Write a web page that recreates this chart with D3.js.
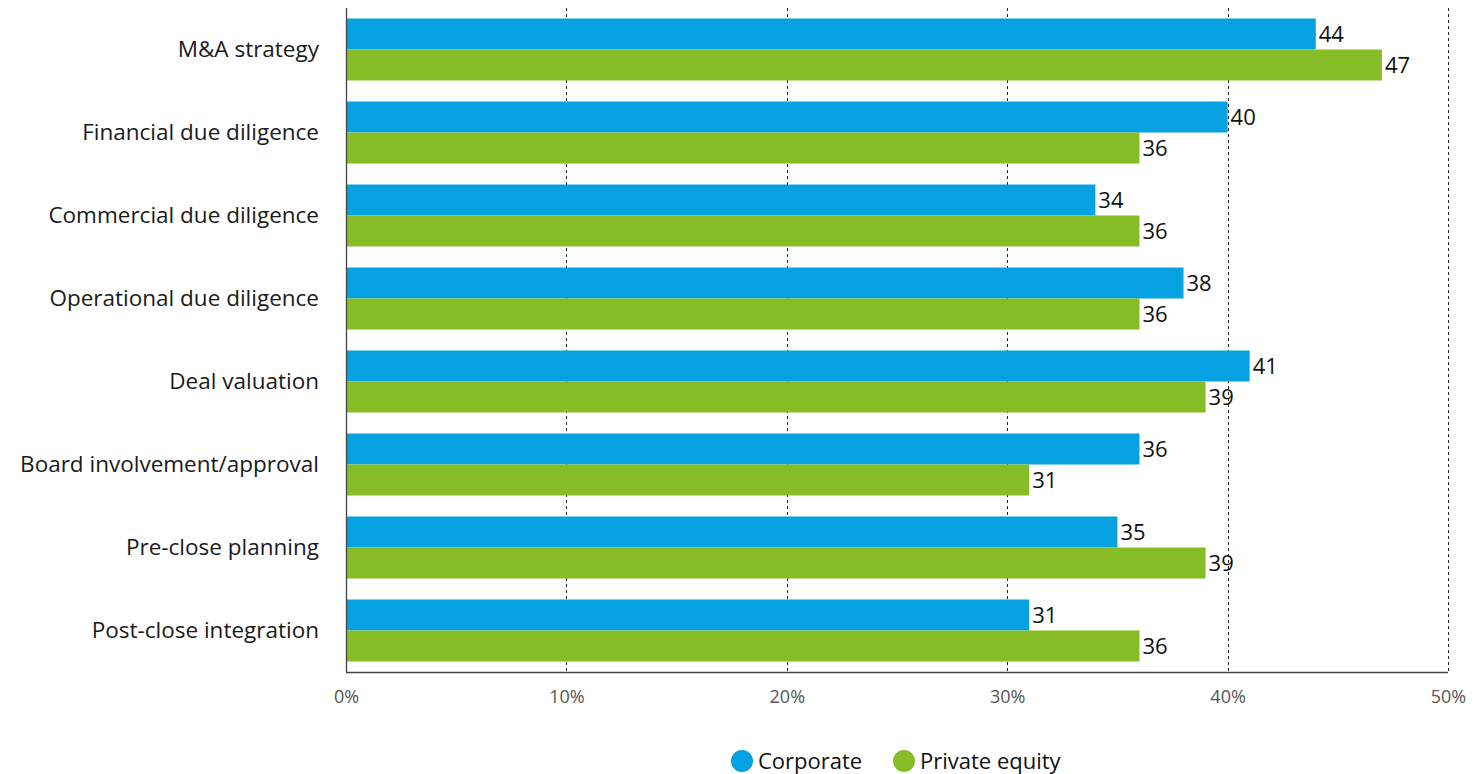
<!DOCTYPE html>
<html>
<head>
<meta charset="utf-8">
<script src="https://cdn.jsdelivr.net/npm/d3@7/dist/d3.min.js"></script>
<style>
  html, body { margin: 0; padding: 0; background: #fff; }
  svg { display: block; font-family: "Open Sans", "Noto Sans", sans-serif; }
</style>
</head>
<body>
<svg id="chart" width="1479" height="774"></svg>
<script>
// Survey areas, top to bottom
const categories = [
  "M&A strategy",
  "Financial due diligence",
  "Commercial due diligence",
  "Operational due diligence",
  "Deal valuation",
  "Board involvement/approval",
  "Pre-close planning",
  "Post-close integration"
];
const seriesNames = ["Corporate", "Private equity"];
const corporate = [44, 40, 34, 38, 41, 36, 35, 31];
const privateEquity = [47, 36, 36, 36, 39, 31, 39, 36];
const tickValues = [0, 10, 20, 30, 40, 50];
const colors = ["#05a1e0", "#86bc25"];

const svg = d3.select("#chart");
const margin = { top: 8, left: 346, right: 31, bottom: 102 };
const width = 1479 - margin.left - margin.right;
const height = 774 - margin.top - margin.bottom;

const g = svg.append("g").attr("transform", `translate(${margin.left},${margin.top})`);

const x = d3.scaleLinear().domain([0, 50]).range([0, width]);
const y = d3.scaleBand().domain(categories).range([0, height]).paddingInner(0.253).paddingOuter(0.1265);
const ySub = d3.scaleBand().domain(seriesNames).range([0, y.bandwidth()]);

// dashed vertical gridlines
g.append("g")
  .selectAll("line")
  .data(tickValues.filter(d => d > 0))
  .join("line")
  .attr("x1", d => Math.round(x(d)) + 0.5)
  .attr("x2", d => Math.round(x(d)) + 0.5)
  .attr("y1", 0)
  .attr("y2", height)
  .attr("stroke", "#222")
  .attr("stroke-width", 1)
  .attr("stroke-dasharray", "3,3");

// bars
const rows = categories.map((c, i) => ({ c, vals: [corporate[i], privateEquity[i]] }));
const groups = g.append("g").selectAll("g")
  .data(rows)
  .join("g")
  .attr("transform", d => `translate(0,${y(d.c)})`);

groups.selectAll("rect")
  .data(d => d.vals.map((v, k) => ({ v, k })))
  .join("rect")
  .attr("x", 0)
  .attr("y", d => ySub(seriesNames[d.k]))
  .attr("width", d => x(d.v))
  .attr("height", ySub.bandwidth())
  .attr("fill", d => colors[d.k]);

groups.selectAll("text.val")
  .data(d => d.vals.map((v, k) => ({ v, k })))
  .join("text")
  .attr("class", "val")
  .attr("x", d => x(d.v) + 3)
  .attr("y", d => ySub(seriesNames[d.k]) + ySub.bandwidth() / 2)
  .attr("dy", "0.35em")
  .attr("font-size", 22)
  .attr("fill", "#111")
  .text(d => d.v);

// category labels
g.append("g")
  .selectAll("text")
  .data(categories)
  .join("text")
  .attr("x", -27)
  .attr("y", d => y(d) + y.bandwidth() / 2)
  .attr("dy", "0.35em")
  .attr("text-anchor", "end")
  .attr("font-size", 22.5)
  .attr("fill", "#1a1a1a")
  .text(d => d);

// axis lines
g.append("line")
  .attr("x1", 0.5).attr("x2", 0.5).attr("y1", 0).attr("y2", height)
  .attr("stroke", "#444").attr("stroke-width", 1.3);
g.append("line")
  .attr("x1", 0).attr("x2", width).attr("y1", height + 0.5).attr("y2", height + 0.5)
  .attr("stroke", "#444").attr("stroke-width", 1.3);

// x tick labels
const xAxis = g.append("g")
  .attr("transform", `translate(0,${height})`)
  .call(d3.axisBottom(x).tickValues(tickValues).tickFormat(d => d + "%").tickSize(0).tickPadding(18));
xAxis.select(".domain").remove();
xAxis.selectAll("text")
  .attr("font-family", "\"Open Sans\", \"Noto Sans\", sans-serif")
  .attr("font-size", 18)
  .attr("fill", "#555");

// legend
const legend = svg.append("g").attr("transform", "translate(742,761)");
const legendItems = [
  { name: seriesNames[0], color: colors[0], dx: 0 },
  { name: seriesNames[1], color: colors[1], dx: 162 }
];
const li = legend.selectAll("g").data(legendItems).join("g")
  .attr("transform", d => `translate(${d.dx},0)`);
li.append("circle").attr("r", 11).attr("fill", d => d.color);
li.append("text")
  .attr("x", 16)
  .attr("dy", "0.35em")
  .attr("font-size", 22)
  .attr("fill", "#111")
  .text(d => d.name);
</script>
</body>
</html>
